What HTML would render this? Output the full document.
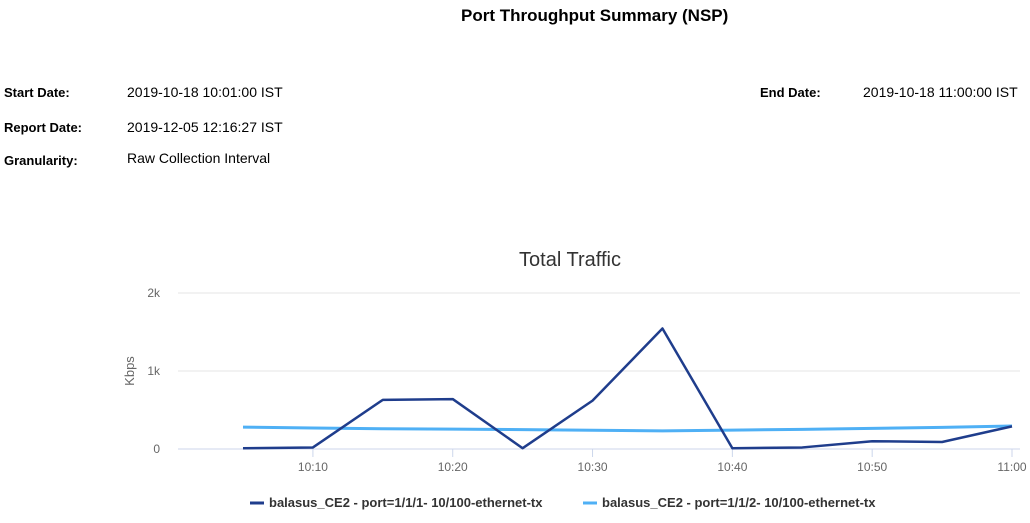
<!DOCTYPE html>
<html><head><meta charset="utf-8"><style>
body{margin:0;width:1030px;height:523px;background:#fff;font-family:"Liberation Sans",sans-serif;position:relative;overflow:hidden}
.t{position:absolute;font-size:14px;color:#000;white-space:nowrap}
.b{font-weight:bold;font-size:13px}
</style></head><body>
<div class="t b" style="left:461px;top:6px;font-size:17px">Port Throughput Summary (NSP)</div>
<div class="t b" style="left:4px;top:85px">Start Date:</div>
<div class="t" style="left:127px;top:84px">2019-10-18 10:01:00 IST</div>
<div class="t b" style="left:760px;top:85px">End Date:</div>
<div class="t" style="left:863px;top:84px">2019-10-18 11:00:00 IST</div>
<div class="t b" style="left:4px;top:120px">Report Date:</div>
<div class="t" style="left:127px;top:119px">2019-12-05 12:16:27 IST</div>
<div class="t b" style="left:4px;top:153px">Granularity:</div>
<div class="t" style="left:127px;top:150px">Raw Collection Interval</div>
<svg id="chart" width="1030" height="523" style="position:absolute;left:0;top:0" font-family="Liberation Sans, sans-serif"></svg>
<script>
const categories=["10:05","10:10","10:15","10:20","10:25","10:30","10:35","10:40","10:45","10:50","10:55","11:00"];
const series1=[10,20,630,640,10,620,1545,10,20,100,90,290];
const series2=[280,270,260,255,248,240,232,242,252,265,278,295];
const yTicks=[0,1000,2000];
const yTickLabels=["0","1k","2k"];
const xTickLabels=["10:10","10:20","10:30","10:40","10:50","11:00"];
const names=["balasus_CE2 - port=1/1/1- 10/100-ethernet-tx","balasus_CE2 - port=1/1/2- 10/100-ethernet-tx"];
const colors=["#1f3d8c","#4fb0f5"];
const svg=document.getElementById('chart');const NS="http://www.w3.org/2000/svg";
function el(t,a,p){const e=document.createElementNS(NS,t);for(const k in a)e.setAttribute(k,a[k]);(p||svg).appendChild(e);return e;}
const X0=178,X1=1020,Y0=449,Y2k=293;
function xs(i){return 243+i*(1012-243)/(categories.length-1);}
function ys(v){return Y0-(v/2000)*(Y0-Y2k);}
let t=el('text',{x:570,y:266,'text-anchor':'middle','font-size':20,fill:'#333'});t.textContent="Total Traffic";


yTicks.forEach((v,i)=>{
 const g=el('line',{x1:X0,x2:X1,y1:ys(v),y2:ys(v),stroke:i==0?'#ccd6eb':'#e6e6e6','stroke-width':1});
 
 
 const l=el('text',{x:160,y:ys(v)+4,'text-anchor':'end','font-size':12,fill:'#666'});l.textContent=yTickLabels[i];
 
 
});
const yt=el('text',{x:134,y:371,'text-anchor':'middle','font-size':13,fill:'#666',transform:'rotate(-90 134 371)'});yt.textContent="Kbps";


xTickLabels.forEach(lbl=>{
 const i=categories.indexOf(lbl);
 const tk=el('line',{x1:xs(i),x2:xs(i),y1:Y0,y2:Y0+8,stroke:'#ccd6eb'});
 
 
 const l=el('text',{x:xs(i),y:471,'text-anchor':'middle','font-size':12,fill:'#666'});l.textContent=lbl;
 
 
});
[series2,series1].forEach((s,k)=>{
 const ci=k==0?1:0;
 const p=el('polyline',{points:s.map((v,i)=>xs(i)+','+ys(v)).join(' '),fill:'none',stroke:colors[ci],'stroke-width':ci==1?3:2.5,'stroke-linejoin':'round'});
 
 
});
const lx=[250,583];
names.forEach((n,i)=>{
 const g=el('g',{});
 
 
 el('line',{x1:lx[i],x2:lx[i]+14,y1:503,y2:503,stroke:colors[i],'stroke-width':3},g);
 const tx=el('text',{x:lx[i]+19,y:507,'font-size':13,'font-weight':'bold',fill:'#333'},g);tx.textContent=n;
});
</script>
</body></html>
